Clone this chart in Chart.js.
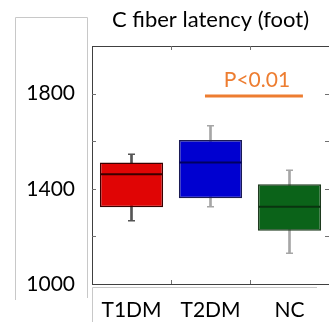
<!DOCTYPE html>
<html><head><meta charset="utf-8">
<script src="https://cdn.jsdelivr.net/npm/chart.js@4"></script>
<style>html,body{margin:0;padding:0;background:#fff}#wrap{width:329px;height:322px;position:relative}</style>
</head><body><div id="wrap"><canvas id="c" width="329" height="322"></canvas></div>
<script>
// ---- data ----
const categories = ['T1DM', 'T2DM', 'NC'];
const whiskerLow = [1266, 1325, 1129];
const q1 = [1322, 1360, 1224];
const median = [1461, 1510, 1325];
const q3 = [1511, 1605, 1419];
const whiskerHigh = [1545, 1665, 1478];
const yTickLabels = [1000, 1400, 1800];
const sigText = 'P<0.01';
const sigLevel = 1790;          // value of significance bar
const sigSpan = [0.93, 2.17];   // category index span of bar

// ---- styles ----
const FONT = 'Lato, "Open Sans", sans-serif';
const boxFill = ['#E00505', '#0000D0', '#0B6319'];
const boxEdge = ['#3A0000', '#1A1A55', '#1E3A1E'];
const medEdge = ['#3A0000', '#000060', '#0A3410'];
const whiskColor = ['#555555', '#A6A6A6', '#A6A6A6'];

const decor = {
  id: 'decor',
  afterDatasetsDraw(chart) {
    const {ctx, chartArea: a, scales} = chart;
    const x = scales.x, y = scales.y;
    ctx.save();
    // top border
    ctx.strokeStyle = '#404040'; ctx.lineWidth = 1;
    ctx.beginPath(); ctx.moveTo(a.left, a.top + 0.5); ctx.lineTo(a.right, a.top + 0.5); ctx.stroke();
    // inner ticks
    ctx.strokeStyle = '#707070';
    ctx.beginPath();
    y.ticks.forEach(t => {
      const py = Math.round(y.getPixelForValue(t.value)) + 0.5;
      if (py <= a.top + 2 || py >= a.bottom - 2) return;
      ctx.moveTo(a.left, py); ctx.lineTo(a.left + 4, py);
      ctx.moveTo(a.right - 4, py); ctx.lineTo(a.right, py);
    });
    for (let i = 0; i < categories.length - 1; i++) {
      const px = Math.round(x.getPixelForValue(i + 0.5)) + 0.5;
      ctx.moveTo(px, a.top); ctx.lineTo(px, a.top + 4);
      ctx.moveTo(px, a.bottom); ctx.lineTo(px, a.bottom - 4);
    }
    ctx.stroke();
    // significance bar
    const sy = y.getPixelForValue(sigLevel);
    const sx0 = x.getPixelForValue(sigSpan[0]), sx1 = x.getPixelForValue(sigSpan[1]);
    ctx.strokeStyle = '#ED7D31'; ctx.lineWidth = 3;
    ctx.beginPath(); ctx.moveTo(sx0, sy); ctx.lineTo(sx1, sy); ctx.stroke();
    ctx.fillStyle = '#ED7D31';
    ctx.font = '21px ' + FONT;
    ctx.textAlign = 'center'; ctx.textBaseline = 'alphabetic';
    ctx.fillText(sigText, (sx0 + sx1) / 2 + 3, sy - 9);
    // panel outlines (composite figure frames)
    ctx.strokeStyle = '#C8C8C8'; ctx.lineWidth = 1;
    ctx.beginPath();
    ctx.moveTo(15.5, 300); ctx.lineTo(15.5, 17.5); ctx.lineTo(87.5, 17.5); ctx.lineTo(87.5, 298);
    ctx.moveTo(92.5, 322); ctx.lineTo(92.5, 287.5); ctx.lineTo(317, 287.5);
    ctx.stroke();
    ctx.restore();
  }
};

new Chart(document.getElementById('c'), {
  data: {
    labels: categories,
    datasets: [
      { type: 'bar', data: categories.map((c, i) => [whiskerLow[i], whiskerHigh[i]]),
        backgroundColor: whiskColor, barThickness: 2, grouped: false, order: 5 },
      { type: 'bar', data: categories.map((c, i) => [q1[i], q3[i]]),
        backgroundColor: boxFill, borderColor: boxEdge, borderWidth: 1.5, borderSkipped: false,
        barPercentage: 0.8, categoryPercentage: 1, grouped: false, order: 4 },
      { type: 'line', data: median, showLine: false, pointStyle: 'line', pointRadius: 31,
        pointBorderWidth: 2, pointBorderColor: medEdge, order: 1 },
      { type: 'line', data: whiskerHigh, showLine: false, pointStyle: 'line', pointRadius: 3.5,
        pointBorderWidth: 1.5, pointBorderColor: whiskColor, order: 2 },
      { type: 'line', data: whiskerLow, showLine: false, pointStyle: 'line', pointRadius: 3.5,
        pointBorderWidth: 1.5, pointBorderColor: whiskColor, order: 3 }
    ]
  },
  options: {
    responsive: false, animation: false, events: [],
    layout: { padding: 0, autoPadding: false },
    plugins: {
      legend: { display: false }, tooltip: { enabled: false },
      title: { display: true, text: 'C fiber latency (foot)', fullSize: false, color: '#000',
        font: { family: FONT, size: 22, weight: 'normal' }, padding: { top: 7, bottom: 12.6 } }
    },
    scales: {
      x: { type: 'category', offset: true,
        grid: { display: true, drawOnChartArea: false, drawTicks: false },
        border: { display: true, color: '#404040', width: 1 },
        ticks: { color: '#000', font: { family: FONT, size: 21 }, padding: 14 },
        afterFit(s) { s.height = 38; s.paddingLeft = 0; s.paddingRight = 0; } },
      y: { type: 'linear', min: 1000, max: 2000,
        grid: { display: true, drawOnChartArea: false, drawTicks: false },
        border: { display: true, color: '#404040', width: 1 },
        ticks: { stepSize: 200, color: '#000', font: { family: FONT, size: 21 }, padding: 17,
          callback: v => yTickLabels.includes(v) ? String(v) : '' },
        afterFit(s) { s.width = 92; s.paddingTop = 0; s.paddingBottom = 0; } }
    }
  },
  plugins: [decor]
});
</script></body></html>
